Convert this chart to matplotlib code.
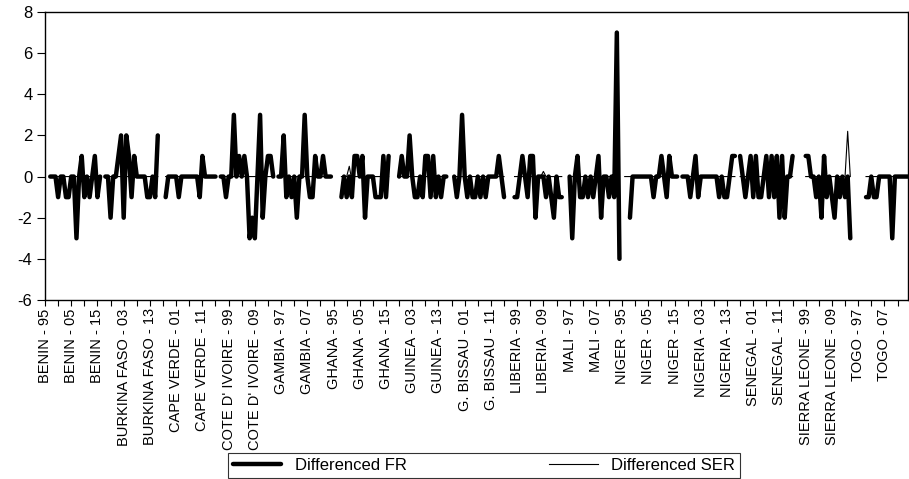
import numpy as np
import matplotlib
matplotlib.use("Agg")
import matplotlib.pyplot as plt

nan = np.nan

# cross sections and years of the panel (first year is lost by differencing)
countries = ["BENIN", "BURKINA FASO", "CAPE VERDE", "COTE D' IVOIRE", "GAMBIA",
             "GHANA", "GUINEA", "G. BISSAU", "LIBERIA", "MALI", "NIGER",
             "NIGERIA", "SENEGAL", "SIERRA LEONE", "TOGO"]
years = list(range(1995, 2017))

# differenced FR, one list per country, 1995..2016
fr_benin = [nan, nan, 0, 0, 0, -1, 0, 0, -1, -1, 0, 0, -3, 0, 1, -1, 0, -1, 0, 1, -1, 0]
fr_burkina = [nan, 0, 0, -2, 0, 0, 1, 2, -2, 2, 1, -1, 1, 0, 0, 0, 0, -1, -1, 0, -1, 2]
fr_capeverde = [nan, nan, -1, 0, 0, 0, 0, -1, 0, 0, 0, 0, 0, 0, 0, -1, 1, 0, 0, 0, 0, 0]
fr_cotedivoire = [nan, 0, 0, -1, 0, 0, 3, 0, 1, 0, 1, 0, -3, -2, -3, 0, 3, -2, 0, 1, 1, 0]
fr_gambia = [nan, 0, 0, 2, -1, 0, -1, 0, -2, 0, 0, 3, 0, -1, -1, 1, 0, 0, 1, 0, 0, 0]
fr_ghana = [nan, nan, nan, -1, 0, -1, 0, -1, 1, 1, 0, 1, -2, 0, 0, 0, -1, -1, -1, 1, -1, 1]
fr_guinea = [nan, nan, nan, 0, 1, 0, 0, 2, 0, -1, -1, 0, -1, 1, 1, -1, 1, -1, 0, -1, 0, 0]
fr_gbissau = [nan, nan, 0, -1, 0, 3, 0, -1, 0, -1, -1, 0, -1, 0, -1, 0, 0, 0, 0, 1, 0, -1]
fr_liberia = [nan, nan, nan, -1, -1, 0, 1, 0, -1, 1, 1, -2, 0, 0, 0, -1, 0, -1, -2, 0, -1, -1]
fr_mali = [nan, nan, 0, -3, 0, 1, -1, -1, 0, -1, 0, -1, 0, 1, -2, 0, 0, -1, 0, -1, 7, -4]
fr_niger = [nan, nan, nan, -2, 0, 0, 0, 0, 0, 0, 0, 0, -1, 0, 0, 1, 0, -1, 1, 0, 0, 0]
fr_nigeria = [nan, 0, 0, 0, -1, 0, 1, -1, 0, 0, 0, 0, 0, 0, 0, -1, 0, -1, -1, 0, 1, 1]
fr_senegal = [nan, 1, 0, -1, 0, 1, -1, 1, -1, -1, 0, 1, -1, 1, -1, 1, -2, 1, -2, 0, 0, 1]
fr_sierraleone = [nan, nan, nan, nan, 1, 1, 0, 0, -1, 0, -2, 1, -1, 0, -1, -2, 0, -1, 0, -1, 0, -3]
fr_togo = [nan, nan, nan, nan, nan, -1, -1, 0, -1, -1, 0, 0, 0, 0, 0, -3, 0, 0, 0, 0, 0, 0]

# differenced SER (mostly hidden under FR)
ser_benin = [nan, nan, 0, 0, 0, 0, 0, 0, 0, 0, 0, 0, 0, 0, 0, 0, 0, 0, 0, 0, 0, 0]
ser_burkina = [nan, 0, 0, 0, 0, 0, 0, 0, 0, 0, 0, 0, 0, 0, 0, 0, 0, 0, 0, 0, 0, 0]
ser_capeverde = [nan, nan, 0, 0, 0, 0, 0, 0, 0, 0, 0, 0, 0, 0, 0, 0, 0, 0, 0, 0, 0, 0]
ser_cotedivoire = [nan, 0, 0, 0, 0, 0, 0, 0, 0, 0, 0, 0, 0, 0, 0, 0, 0, 0, 0, 0, 0, 0]
ser_gambia = [nan, 0, 0, 0, 0, 0, 0, 0, 0, 0, 0, 0, 0, 0, 0, 0, 0, 0, 0, 0, 0, 0]
ser_ghana = [nan, nan, nan, 0, 0, 0, 0.5, -0.2, 0, 0, 0, 0, 0, 0, 0, 0, 0, 0, 0, 0, 0, 0]
ser_guinea = [nan, nan, nan, 0, 0, 0, 0, 0, 0, 0, 0, 0, 0, 0, 0, 0, 0, 0, 0, 0, 0, 0]
ser_gbissau = [nan, nan, 0, 0, 0, 0, 0, 0, 0, 0, 0, 0, 0, 0, 0, 0, 0, 0, 0, 0, 0, 0]
ser_liberia = [nan, nan, nan, 0, 0, 0, 0, 0, 0, 0, 0, 0, 0, 0, 0.25, 0, 0, 0, 0, 0, 0, 0]
ser_mali = [nan, nan, 0, 0, 0, 0, 0, 0, 0, 0, 0, 0, 0, 0, 0, 0, 0, 0, 0, 0, 0, 0]
ser_niger = [nan, 0, 0, 0, 0, 0, 0, 0, 0, 0, 0, 0, 0, 0, 0, 0, 0, 0, 0, 0, 0, 0]
ser_nigeria = [nan, 0, 0, 0, 0, 0, 0, 0, 0, 0, 0, 0, 0, 0, 0, 0, 0, 0, 0, 0, 0, 0]
ser_senegal = [nan, 0, 0, 0, 0, 0, 0, 0, 0, 0, 0, 0, 0, 0, 0, 0, 0, 0, 0, 0, 0, 0]
ser_sierraleone = [nan, nan, nan, nan, 0, 0, 0, 0, 0, 0, 0, 0, 0, 0, 0, 0, 0, 0, 0, 0, 2.2, 0]
ser_togo = [nan, nan, nan, nan, nan, 0, 0, 0, 0, 0, 0, 0, 0, 0, 0, 0, 0, 0, 0, 0, 0, 0]

fr_lists = [fr_benin, fr_burkina, fr_capeverde, fr_cotedivoire, fr_gambia, fr_ghana,
            fr_guinea, fr_gbissau, fr_liberia, fr_mali, fr_niger, fr_nigeria,
            fr_senegal, fr_sierraleone, fr_togo]
ser_lists = [ser_benin, ser_burkina, ser_capeverde, ser_cotedivoire, ser_gambia, ser_ghana,
             ser_guinea, ser_gbissau, ser_liberia, ser_mali, ser_niger, ser_nigeria,
             ser_senegal, ser_sierraleone, ser_togo]

# stack the panel
fr = np.concatenate([np.array(v, dtype=float) for v in fr_lists])
ser = np.concatenate([np.array(v, dtype=float) for v in ser_lists])
labels = [f"{c} - {str(y)[2:]}" for c in countries for y in years]
obs = np.arange(len(fr))

plt.rcParams['font.family'] = ['Liberation Sans', 'DejaVu Sans']
plt.rcParams['axes.unicode_minus'] = False

fig = plt.figure(figsize=(9.09, 4.79), dpi=100)
ax = fig.add_axes([0.0495, 0.3737, 0.9494, 0.6013])

# thick FR and thin SER lines
ax.plot(obs, fr, color='black', linewidth=3.2, solid_joinstyle='round',
        solid_capstyle='round', label='Differenced FR', zorder=3)
ax.plot(obs, ser, color='black', linewidth=0.8, label='Differenced SER', zorder=2)

ax.set_xlim(0, len(fr) - 1)
ax.set_ylim(-6, 8)
ax.set_yticks(np.arange(-6, 9, 2))

# labels every 10 observations, ticks every 5
ax.set_xticks(obs[::10])
ax.set_xticklabels(labels[::10], rotation=90, fontsize=10.5)
ax.set_xticks(obs[::5], minor=True)
ax.tick_params(axis='x', which='both', direction='out', length=4, width=0.8, pad=2)
ax.tick_params(axis='y', direction='out', length=6, width=0.8, labelsize=12, pad=3)

for s in ax.spines.values():
    s.set_linewidth(1.0)

# legend box spread over the same width as the original
leg = fig.legend(loc='lower left', bbox_to_anchor=(228 / 909, 1 / 479, 512 / 909, 23 / 479),
                 mode='expand', ncol=2, fontsize=12, frameon=True, fancybox=False,
                 edgecolor='black', handlelength=2.9, borderpad=0.3,
                 handletextpad=0.8, borderaxespad=0)
leg.get_frame().set_linewidth(0.8)

fig.savefig("out.png", dpi=100)
